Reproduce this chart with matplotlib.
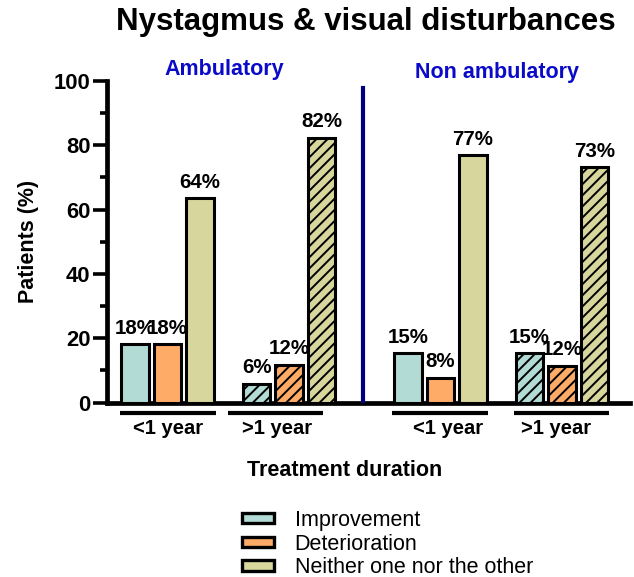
import numpy as np
import matplotlib.pyplot as plt
from matplotlib.patches import Patch

plt.rcParams['font.family'] = ['Liberation Sans', 'DejaVu Sans']
plt.rcParams['hatch.linewidth'] = 1.4

# data (percent of patients)
outcomes = ["Improvement", "Deterioration", "Neither one nor the other"]
colors = ["#b2dbd5", "#fdab67", "#d7d69c"]
groups = ["<1 year", ">1 year", "<1 year", ">1 year"]
improvement = [18.2, 5.9, 15.4, 15.4]
deterioration = [18.2, 11.8, 7.7, 11.5]
neither = [63.6, 82.4, 76.9, 73.1]
labels_impr = ["18%", "6%", "15%", "15%"]
labels_det = ["18%", "12%", "8%", "12%"]
labels_nei = ["64%", "82%", "77%", "73%"]
hatched = [False, True, False, True]

# layout (x in bar-pitch units)
centers = [1.86, 5.6, 10.26, 14.0]
line_centers = [1.875, 5.18, 10.25, 13.98]
text_centers = [1.88, 5.23, 10.49, 13.82]
divider_x = 7.88

fig = plt.figure(figsize=(6.34, 5.77), dpi=100)
ax = fig.add_axes([0.1688, 0.3024, 0.8249, 0.5572])

series = [improvement, deterioration, neither]
series_labels = [labels_impr, labels_det, labels_nei]
for k in range(3):
    for g in range(4):
        x = centers[g] + (k - 1)
        ax.bar(x, series[k][g], width=0.85, color=colors[k], edgecolor='black',
               linewidth=2.2, hatch='///' if hatched[g] else None, zorder=3)
        ax.annotate(series_labels[k][g], (x, series[k][g]), xytext=(0, 11.5),
                    textcoords='offset points', ha='center', va='center',
                    fontsize=14.8, fontweight='bold', annotation_clip=False)

ax.set_xlim(0, 16.09)
ax.set_ylim(0, 100)
ax.set_yticks(np.arange(0, 101, 20))
ax.set_yticks(np.arange(10, 100, 20), minor=True)
ax.set_xticks([])
for s in ['top', 'right']:
    ax.spines[s].set_visible(False)
for s in ['left', 'bottom']:
    ax.spines[s].set_linewidth(3.4)
ax.tick_params(axis='y', which='major', length=10, width=2.6, pad=2,
               labelsize=15.8)
ax.tick_params(axis='y', which='minor', length=5, width=2.6)
for t in ax.get_yticklabels():
    t.set_fontweight('bold')

# group underlines and labels
for g in range(4):
    ax.plot([line_centers[g] - 1.47, line_centers[g] + 1.47], [-3.3, -3.3],
            color='black', lw=3, clip_on=False, solid_capstyle='butt')
    ax.text(text_centers[g], -8.2, groups[g], ha='center', va='center',
            fontsize=14.5, fontweight='bold', clip_on=False)

ax.plot([divider_x, divider_x], [0, 97.8], color='#000080', lw=3, zorder=4)

ax.set_ylabel("Patients (%)", fontsize=15.5, fontweight='bold')
ax.yaxis.set_label_coords(-0.151, 0.5)
ax.yaxis.label.set_va('center')
ax.set_xlabel("Treatment duration", fontsize=15.5, fontweight='bold')
ax.xaxis.set_label_coords(0.455, -0.21)
ax.xaxis.label.set_va('center')

fig.text(365.5 / 634, 1 - 22 / 577, "Nystagmus & visual disturbances",
         ha='center', va='center', fontsize=22.5, fontweight='bold')
fig.text(224 / 634, 1 - 69 / 577, "Ambulatory", ha='center', va='center',
         fontsize=15.5, fontweight='bold', color='#0a0ac8')
fig.text(497 / 634, 1 - 72 / 577, "Non ambulatory", ha='center', va='center',
         fontsize=15.5, fontweight='bold', color='#0a0ac8')

handles = [Patch(facecolor=c, edgecolor='black', linewidth=2.4) for c in colors]
fig.legend(handles, outcomes, loc='upper left',
           bbox_to_anchor=(242 / 634, 1 - 510 / 577), frameon=False,
           fontsize=15.5, handlelength=1.5, handleheight=0.35,
           handletextpad=0.95, labelspacing=0.12, borderpad=0,
           borderaxespad=0)

fig.savefig("out.png", dpi=100)
